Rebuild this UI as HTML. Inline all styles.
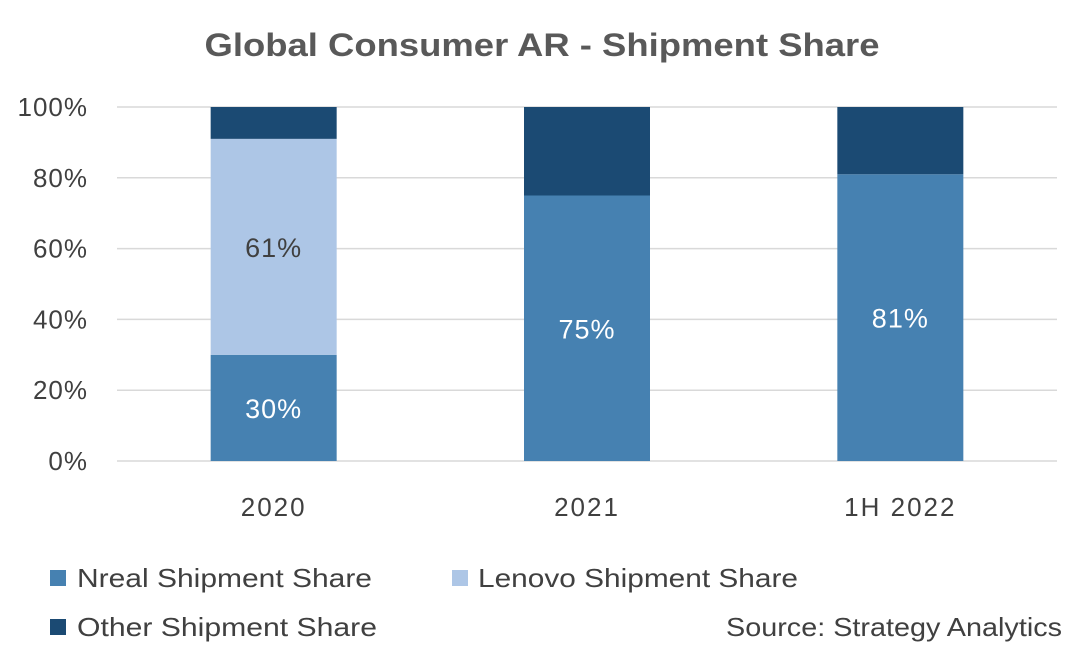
<!DOCTYPE html>
<html><head><meta charset="utf-8"><style>
body{margin:0;background:#fff;}
svg{display:block;font-family:"Liberation Sans",Calibri,sans-serif;}
</style></head><body>
<svg id="chart" width="1080" height="655" viewBox="0 0 1080 655">
<text x="542" y="56" text-anchor="middle" font-size="32" font-weight="bold" fill="#595959" textLength="675" lengthAdjust="spacingAndGlyphs">Global Consumer AR - Shipment Share</text>
<g id="grid"></g><g id="bars"></g><g id="labels"></g>
<g>
<rect x="50" y="570" width="16" height="16" fill="#4681B1"/>
<text x="77" y="587" font-size="26" fill="#404040" textLength="295" lengthAdjust="spacingAndGlyphs">Nreal Shipment Share</text>
<rect x="452" y="570" width="16" height="16" fill="#ADC6E6"/>
<text x="478" y="587" font-size="26" fill="#404040" textLength="320" lengthAdjust="spacingAndGlyphs">Lenovo Shipment Share</text>
<rect x="50" y="619" width="16" height="16" fill="#1B4A73"/>
<text x="77" y="636" font-size="26" fill="#404040" textLength="300" lengthAdjust="spacingAndGlyphs">Other Shipment Share</text>
</g>
<text x="726" y="636" font-size="26" fill="#404040" textLength="336" lengthAdjust="spacingAndGlyphs">Source: Strategy Analytics</text>
</svg>
<script>
const categories = ["2020", "2021", "1H 2022"];
const nreal = [30, 75, 81];
const lenovo = [61, 0, 0];
const other = [9, 25, 19];
const nrealLabels = ["30%", "75%", "81%"];
const lenovoLabels = ["61%", "", ""];
const yTicks = [0, 20, 40, 60, 80, 100];

const NS = "http://www.w3.org/2000/svg";
const x0 = 117, x1 = 1057, y0 = 461, y100 = 107;
const bw = (x1 - x0) / categories.length, barW = 126;
const y = v => y0 - (y0 - y100) * v / 100;
const xc = i => x0 + bw * (i + 0.5);
function mk(tag, attrs, parent) { const e = document.createElementNS(NS, tag); for (const k in attrs) e.setAttribute(k, attrs[k]); parent.appendChild(e); return e; }
const grid = document.getElementById("grid"), bars = document.getElementById("bars"), labels = document.getElementById("labels");
yTicks.forEach(t => {
  const l = mk("line", {x1: x0, x2: x1, y1: y(t), y2: y(t), stroke: "#d9d9d9", "stroke-width": 1.5}, grid);
  
  
  const tx = mk("text", {x: 88, y: y(t) + 9, "text-anchor": "end", "font-size": 26, fill: "#404040", "letter-spacing": 1}, grid);
  tx.textContent = t + "%";
  
  
});
categories.forEach((c, i) => {
  const series = [[nreal[i], "#4681B1", "nreal"], [lenovo[i], "#ADC6E6", "lenovo"], [other[i], "#1B4A73", "other"]];
  let base = 0;
  series.forEach(([v, col, nm]) => {
    if (v > 0) {
      const r = mk("rect", {x: xc(i) - barW / 2, y: y(base + v), width: barW, height: y(base) - y(base + v), fill: col}, bars);
      
      
    }
    base += v;
  });
  const cl = mk("text", {x: xc(i), y: 516, "text-anchor": "middle", "font-size": 26, fill: "#404040", "letter-spacing": 2}, labels);
  cl.textContent = c;
  
  
  if (nrealLabels[i]) {
    const t = mk("text", {x: xc(i), y: y(nreal[i] / 2) + 10, "text-anchor": "middle", "font-size": 27, fill: "#fff", "letter-spacing": 1}, labels);
    t.textContent = nrealLabels[i];
    
    
  }
  if (lenovoLabels[i]) {
    const t = mk("text", {x: xc(i), y: y(nreal[i] + lenovo[i] / 2) + 10, "text-anchor": "middle", "font-size": 27, fill: "#404040", "letter-spacing": 1}, labels);
    t.textContent = lenovoLabels[i];
    
    
  }
});
</script>
</body></html>
